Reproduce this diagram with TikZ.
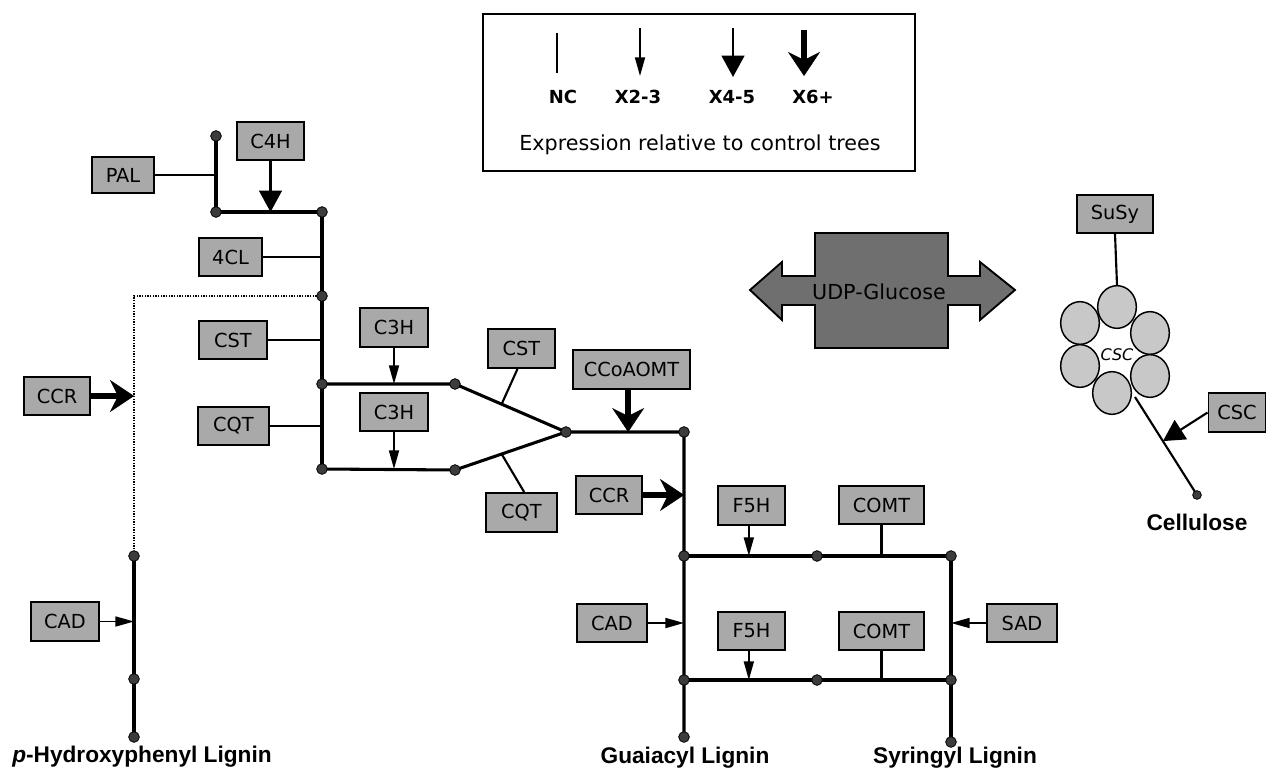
\documentclass[tikz,border=0pt]{standalone}
\usepackage{fontspec}
\setmainfont{DejaVu Sans}
\newfontfamily\arialf{Liberation Sans}
\usetikzlibrary{arrows.meta,calc,shapes.geometric}
\definecolor{boxgray}{HTML}{A9A9A9}
\definecolor{udpgray}{HTML}{6F6F6F}
\definecolor{cellgray}{HTML}{C8C8C8}
\definecolor{dotgray}{HTML}{3C3C3C}
\begin{document}
\begin{tikzpicture}[x=0.75pt,y=-0.75pt,
  enz/.style={draw=black,line width=1.4pt,fill=boxgray,inner sep=0pt,font=\fontsize{14.5}{16}\selectfont},
  sz/.style 2 args={minimum width=#1*0.75pt,minimum height=#2*0.75pt},
  dotn/.style={circle,draw=black,line width=0.6pt,fill=dotgray,minimum size=8pt,inner sep=0pt},
  mainln/.style={line width=2.3pt},
  stemln/.style={line width=1.6pt},
  dotln/.style={densely dotted,line width=1pt},
  xsmall/.style={line width=1.3pt,-{Triangle[length=14pt,width=7.5pt]}},
  xmed/.style={line width=1.7pt,-{Triangle[length=16pt,width=17pt]}},
  xbig/.style={line width=4.8pt,-{Stealth[length=18pt,width=24pt,inset=6pt,line width=0.3pt]}},
  lig/.style={font=\arialf\bfseries\fontsize{17}{19}\selectfont,inner sep=0pt},
  leglab/.style={font=\bfseries\fontsize{13.5}{15}\selectfont,inner sep=0pt},
  cell/.style={ellipse,draw=black,line width=1.1pt,fill=cellgray,minimum width=29pt,minimum height=32pt,inner sep=0pt}
]
\useasboundingbox (0,0) rectangle (1267,770);

% ---------- legend ----------
\node[draw=black,line width=1.6pt,fill=white,sz={432}{157}] (legend) at (699,92.5) {};
\coordinate (ncT) at (557,33); \coordinate (ncB) at (557,73);
\coordinate (l2T) at (640,28); \coordinate (l2B) at (640,76);
\coordinate (l4T) at (733,28); \coordinate (l4B) at (733,77);
\coordinate (l6T) at (804,30); \coordinate (l6B) at (804,76);
\draw[line width=1.8pt] (ncT) -- (ncB);
\draw[xsmall] (l2T) -- (l2B);
\draw[xmed] (l4T) -- (l4B);
\draw[xbig] (l6T) -- (l6B);
\node[leglab] (tNC) at (563,97) {NC};
\node[leglab] (tX2) at (638,97) {X2-3};
\node[leglab] (tX4) at (732,97) {X4-5};
\node[leglab] (tX6) at (813,97) {X6+};
\node[font=\fontsize{15.5}{17}\selectfont,inner sep=0pt] (tExp) at (700,145) {Expression relative to control trees};

% ---------- junction coordinates ----------
\coordinate (dA) at (216,136);
\coordinate (dB) at (216,212);
\coordinate (dC) at (322,212);
\coordinate (dD) at (322,296);
\coordinate (dE) at (322,384);
\coordinate (dF) at (322,469);
\coordinate (dG) at (455,384);
\coordinate (dH) at (455,470);
\coordinate (dI) at (566,432);
\coordinate (dJ) at (684,432);
\coordinate (dK) at (684,556);
\coordinate (dL) at (817,556);
\coordinate (dM) at (951,556);
\coordinate (dN) at (684,680);
\coordinate (dO) at (817,680);
\coordinate (dP) at (951,680);
\coordinate (dQ) at (684,737);
\coordinate (dV) at (951,742);
\coordinate (dR) at (134,556);
\coordinate (dS) at (134,679);
\coordinate (dT) at (134,737);
\coordinate (dU) at (1197,495);
\coordinate (cstem) at (1135,397);

% ---------- enzyme boxes ----------
\node[enz,sz={62}{36}] (PAL) at (123,175) {PAL};
\node[enz,sz={67}{38}] (C4H) at (270.5,141) {C4H};
\node[enz,sz={63}{38}] (FourCL) at (230.5,257) {4CL};
\node[enz,sz={68}{38}] (CSTa) at (233,340) {CST};
\node[enz,sz={71}{38}] (CQTa) at (233.5,426) {CQT};
\node[enz,sz={68}{39}] (CThHa) at (394,327.5) {C3H};
\node[enz,sz={68}{38}] (CThHb) at (394,412) {C3H};
\node[enz,sz={66}{38}] (CCRa) at (57,396) {CCR};
\node[enz,sz={67}{39}] (CSTb) at (521.5,348.5) {CST};
\node[enz,sz={71}{39}] (CQTb) at (521.5,512.5) {CQT};
\node[enz,sz={117}{39}] (CCoA) at (631.5,369.5) {CCoAOMT};
\node[enz,sz={66}{38}] (CCRb) at (609,495) {CCR};
\node[enz,sz={67}{39}] (FHa) at (751.5,505.5) {F5H};
\node[enz,sz={85}{38}] (COMTa) at (881.5,505) {COMT};
\node[enz,sz={70}{38}] (CADb) at (612,623) {CAD};
\node[enz,sz={67}{38}] (FHb) at (751.5,631) {F5H};
\node[enz,sz={85}{38}] (COMTb) at (881.5,631) {COMT};
\node[enz,sz={70}{38}] (SAD) at (1022,623) {SAD};
\node[enz,sz={68}{39}] (CADa) at (65,621.5) {CAD};
\node[enz,sz={76}{38}] (SuSy) at (1115,214) {SuSy};
\node[enz,sz={57}{39}] (CSCb) at (1237,412.5) {CSC};

% ---------- pathway lines ----------
\draw[mainln] (dA) -- (dB) -- (dC) -- (dF);
\draw[mainln] (dE) -- (dG) -- (dI) -- (dJ) -- (dQ);
\draw[mainln] (dF) -- (dH) -- (dI);
\draw[mainln] (dK) -- (dM) -- (dV);
\draw[mainln] (dN) -- (dP);
\draw[mainln] (dR) -- (dT);
\draw[dotln] (dD) -| (dR);

% ---------- stems (no change) ----------
\draw[stemln] (PAL.east) -- (PAL.east -| dA);
\draw[stemln] (FourCL.east) -- (FourCL.east -| dC);
\draw[stemln] (CSTa.east) -- (CSTa.east -| dC);
\draw[stemln] (CQTa.east) -- (CQTa.east -| dC);
\draw[stemln] ([xshift=-3pt]CSTb.south) -- ($(dG)!0.42!(dI)$);
\draw[stemln] ([xshift=2pt]CQTb.north) -- ($(dH)!0.42!(dI)$);
\draw[stemln] (COMTa.south) -- (COMTa.south |- dM);
\draw[stemln] (COMTb.south) -- (COMTb.south |- dP);

% ---------- regulated arrows ----------
\draw[xmed] (C4H.south) -- (C4H.south |- dB);
\draw[xsmall] (CThHa.south) -- (CThHa.south |- dE);
\draw[xsmall] (CThHb.south) -- (CThHb.south |- dF);
\draw[xbig] (CCRa.east) -- (CCRa.east -| dR);
\draw[xsmall] (CADa.east) -- (CADa.east -| dR);
\draw[xbig] ([xshift=-2.5pt]CCoA.south) -- ([xshift=-2.5pt]CCoA.south |- dI);
\draw[xbig] (CCRb.east) -- (CCRb.east -| dJ);
\draw[xsmall] ([xshift=-2pt]FHa.south) -- ([xshift=-2pt]FHa.south |- dK);
\draw[xsmall] ([xshift=-2pt]FHb.south) -- ([xshift=-2pt]FHb.south |- dN);
\draw[xsmall] (CADb.east) -- (CADb.east -| dK);
\draw[xsmall] (SAD.west) -- (SAD.west -| dM);

% ---------- UDP-Glucose ----------
\draw[fill=udpgray,line width=1.4pt,line join=miter]
  (750,290) -- (782,262) -- (782,276) -- (815,276) -- (815,233) -- (948,233)
  -- (948,276) -- (980,276) -- (980,262) -- (1015,290) -- (980,320) -- (980,305)
  -- (948,305) -- (948,348) -- (815,348) -- (815,305) -- (782,305) -- (782,320) -- cycle;
\node[font=\fontsize{15.5}{17}\selectfont,inner sep=0pt] (udp) at (879,292) {UDP-Glucose};

% ---------- cellulose synthase complex ----------
\node[cell] (cs2) at (1080,323) {};
\node[cell] (cs4) at (1080,366) {};
\node[cell] (cs3) at (1150,333) {};
\node[cell] (cs5) at (1150,376) {};
\node[cell] (cs1) at (1117,307) {};
\node[cell] (cs6) at (1112,393) {};
\node[font=\itshape\fontsize{12}{13}\selectfont,inner sep=0pt] (csctext) at (1117,355) {CSC};
\draw[stemln] (SuSy.south) -- (cs1.north);
\draw[stemln] (cstem) -- (dU);
\draw[xmed,line width=1.6pt] (CSCb.west) -- ($(cstem)!0.45!(dU)$);

% ---------- dots ----------
\foreach \d in {dA,dB,dC,dD,dE,dF,dG,dH,dI,dJ,dK,dL,dM,dN,dO,dP,dQ,dV,dR,dS,dT}
  \node[dotn] (\d-dot) at (\d) {};
\node[dotn,minimum size=6.5pt] (dU-dot) at (dU) {};

% ---------- product labels ----------
\node[lig,anchor=west] (pH) at (12,757) {\textit{p}-Hydroxyphenyl Lignin};
\node[lig] (gL) at (685,758) {Guaiacyl Lignin};
\node[lig] (sL) at (955,758) {Syringyl Lignin};
\node[lig] (cel) at (1197,522) {Cellulose};
\end{tikzpicture}
\end{document}
